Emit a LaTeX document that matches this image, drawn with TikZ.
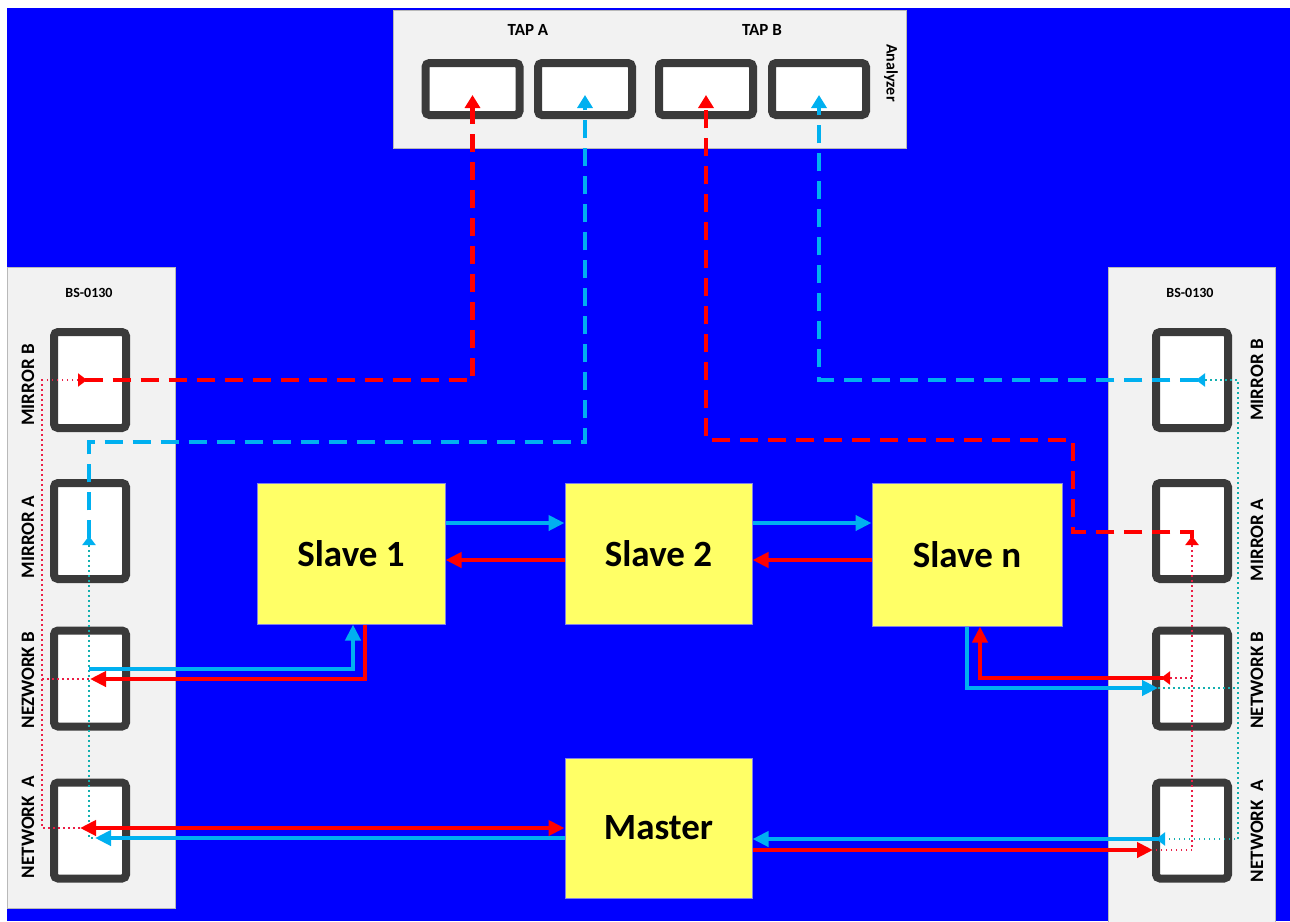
\documentclass[tikz,border=0pt]{standalone}
\usepackage{fontspec}
\setmainfont{Carlito}
\usetikzlibrary{arrows.meta}
\definecolor{bgblue}{RGB}{0,0,255}
\definecolor{cyanl}{RGB}{0,176,240}
\definecolor{redl}{RGB}{255,0,0}
\definecolor{panel}{RGB}{242,242,242}
\definecolor{panelline}{RGB}{185,185,185}
\definecolor{portc}{RGB}{58,58,58}
\definecolor{slavey}{RGB}{255,255,102}
\definecolor{unitline}{RGB}{130,130,230}
\definecolor{dotcyan}{RGB}{20,175,175}
\definecolor{dotred}{RGB}{235,30,70}
\begin{document}
\begin{tikzpicture}[x=1pt,y=-1pt,
  panelbox/.style={draw=panelline,fill=panel,line width=1pt,inner sep=0pt},
  port/.style={draw=portc,fill=white,line width=8pt,rounded corners=4pt,inner sep=0pt},
  hport/.style={port,minimum width=94pt,minimum height=52pt},
  vport/.style={port,minimum width=72pt,minimum height=96pt},
  unit/.style={draw=unitline,line width=1pt,fill=slavey,inner sep=0pt,font=\fontsize{37}{44}\selectfont\bfseries},
  sidelabel/.style={font=\fontsize{19}{23}\selectfont\bfseries,rotate=90,inner sep=0pt},
  smalllabel/.style={font=\fontsize{17}{20}\selectfont\bfseries,inner sep=0pt},
  bslabel/.style={font=\fontsize{14}{17}\selectfont\bfseries,inner sep=0pt},
  sol/.style={line width=4.4pt},
  dsh/.style={line width=4.4pt,dash pattern=on 18pt off 10pt},
  cy/.style={draw=cyanl},
  rd/.style={draw=redl},
  tip/.style={-{Triangle[length=16pt,width=15pt]}},
  dtip/.style={-{Triangle[length=13pt,width=15pt]}},
  both/.style={{Triangle[length=16pt,width=15pt]}-{Triangle[length=16pt,width=15pt]}},
  tailtip/.style={{Triangle[reversed,length=9pt,width=13pt]}-{Triangle[length=16pt,width=15pt]}},
  dtailtip/.style={{Triangle[reversed,length=9pt,width=13pt]}-{Triangle[length=13pt,width=15pt]}},
  dotr/.style={draw=dotred,line width=1.5pt,dash pattern=on 1.5pt off 3.5pt},
  dotc/.style={draw=dotcyan,line width=1.5pt,dash pattern=on 1.5pt off 3.5pt}
]
\useasboundingbox (0,0) rectangle (1290,921);
\fill[bgblue] (7,8) rectangle (1290,921);

% panels
\node[panelbox,minimum width=513pt,minimum height=138pt] (analyzer) at (649.5,79) {};
\node[panelbox,minimum width=168pt,minimum height=641pt] (leftbs) at (91,587.5) {};
\node[panelbox,minimum width=167pt,minimum height=660pt] (rightbs) at (1191.5,597) {};

% analyzer ports
\node[hport] (p1) at (472.5,89) {};
\node[hport] (p2) at (585,89) {};
\node[hport] (p3) at (706,89) {};
\node[hport] (p4) at (819,89) {};
\node[smalllabel] (tapa) at (528,30) {TAP A};
\node[smalllabel] (tapb) at (762,30) {TAP B};
\node[font=\fontsize{16}{19}\selectfont\bfseries,inner sep=0pt,rotate=-90] (anl) at (891,73) {Analyzer};

% left BS ports
\node[vport] (lMB) at (90,380) {};
\node[vport] (lMA) at (90,531) {};
\node[vport] (lNB) at (90,678.5) {};
\node[vport] (lNA) at (90,830.5) {};
\node[bslabel] (lbs) at (89,293) {BS-0130};
\node[sidelabel] (lmbl) at (28,385) {MIRROR B};
\node[sidelabel] (lmal) at (28,537) {MIRROR A};
\node[sidelabel] (lnbl) at (28,680) {NEZWORK B};
\node[sidelabel] (lnal) at (28,827) {NETWORK\ \ A};

% right BS ports
\node[vport] (rMB) at (1192,380) {};
\node[vport] (rMA) at (1192,531) {};
\node[vport] (rNB) at (1192,678.5) {};
\node[vport] (rNA) at (1192,830.5) {};
\node[bslabel] (rbs) at (1190,293) {BS-0130};
\node[sidelabel] (rmbl) at (1257,380) {MIRROR B};
\node[sidelabel] (rmal) at (1257,540) {MIRROR A};
\node[sidelabel] (rnbl) at (1257,680) {NETWORK B};
\node[sidelabel] (rnal) at (1257,831) {NETWORK\ \ A};

% units
\node[unit,minimum width=188pt,minimum height=141pt] (s1) at (351,553.5) {Slave 1};
\node[unit,minimum width=187pt,minimum height=141pt] (s2) at (658.5,553.5) {Slave 2};
\node[unit,minimum width=190pt,minimum height=143pt] (sn) at (967,554.5) {Slave n};
\node[unit,minimum width=187pt,minimum height=140pt] (master) at (658.5,828) {Master};

% port connection points
\coordinate (lmbR) at (78,380);
\coordinate (lmaC) at (89,545);
\coordinate (lnbC) at (89,669);
\coordinate (lnbR) at (90,679);
\coordinate (lnaR) at (80,828);
\coordinate (lnaC) at (95,838);
\coordinate (rmbC) at (1205,380);
\coordinate (rmaR) at (1192,545);
\coordinate (rnbR) at (1170,678);
\coordinate (rnbC) at (1158,688);
\coordinate (rnaC) at (1165,839);
\coordinate (rnaR) at (1153,850);

% internal dotted links
\draw[dotr] (lmbR) -- (42,380) -- (42,828) -- (lnaR);
\draw[dotr] (42,679) -- (lnbR);
\draw[dotc] (lmaC) -- (89,838) -- (lnaC);
\draw[dotc] (rmbC) -- (1238,380) -- (1238,839) -- (rnaC);
\draw[dotc] (rnbC) -- (1238,688);
\draw[dotr] (rmaR) -- (1192,850) -- (rnaR);
\draw[dotr] (rnbR) -- (1192,678);

% slave chain
\draw[sol,cy,tip] (s1.east |- 0,523) -- (s2.west |- 0,523);
\draw[sol,rd,tip] (s2.west |- 0,560) -- (s1.east |- 0,560);
\draw[sol,cy,tip] (s2.east |- 0,523) -- (sn.west |- 0,523);
\draw[sol,rd,tip] (sn.west |- 0,560) -- (s2.east |- 0,560);

% left network links
\draw[sol,cy,tip] (lnbC) -- (353,669) -- (s1.south -| 353,0);
\draw[sol,rd,tip] (s1.south -| 365,0) -- (365,679) -- (lnbR);
\draw[sol,rd,both] (lnaR) -- (master.west |- 0,828);
\draw[sol,cy,tip] (master.west |- 0,838) -- (lnaC);

% right network links
\draw[sol,cy,tailtip] (rnaC) -- (master.east |- 0,839);
\draw[sol,rd,tip] (master.east |- 0,850) -- (rnaR);
\draw[sol,rd,tailtip] (rnbR) -- (980,678) -- (sn.south -| 980,0);
\draw[sol,cy,tip] (sn.south -| 967,0) -- (967,688) -- (rnbC);

% mirror links to analyzer
\draw[dsh,rd,dtailtip] (lmbR) -- (p1.center |- lmbR) -- (p1.center |- 0,95);
\draw[dsh,cy,dtailtip] (lmaC) -- (89,442) -- (p2.center |- 0,442) -- (p2.center |- 0,95);
\draw[dsh,rd,dtailtip] (rmaR) -- (1192,532) -- (1073,532) -- (1073,440) -- (p3.center |- 0,440) -- (p3.center |- 0,95);
\draw[dsh,cy,dtailtip] (rmbC) -- (p4.center |- rmbC) -- (p4.center |- 0,95);
\end{tikzpicture}
\end{document}
